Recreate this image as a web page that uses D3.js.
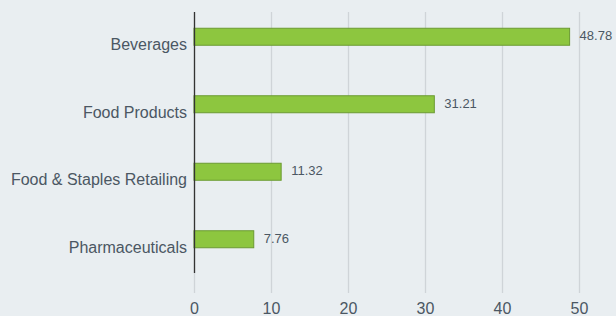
<!DOCTYPE html>
<html><head><meta charset="utf-8">
<script src="https://cdn.jsdelivr.net/npm/d3@7"></script>
<style>
html,body{margin:0;padding:0;background:#e9eef1;}
svg{display:block;font-family:"Liberation Sans",Arial,sans-serif;}
</style></head>
<body>
<svg id="chart" width="616" height="316"></svg>
<script>
const categories = ["Beverages","Food Products","Food & Staples Retailing","Pharmaceuticals"];
const values = [48.78, 31.21, 11.32, 7.76];
const tickValues = [0,10,20,30,40,50];

const svg = d3.select("#chart");
const W = 616, H = 316;
svg.append("rect").attr("width",W).attr("height",H).attr("fill","#e9eef1");

const x = d3.scaleLinear().domain([0,50]).range([194,579]);
const y = d3.scaleBand().domain(categories).range([3,273]).padding(0);
const barH = 17;
const plotTop = 12, plotBottom = 273;

// gridlines + ticks
const g = svg.append("g");
g.selectAll("line.grid").data(tickValues).join("line")
  .attr("x1",d=>x(d)+0.5).attr("x2",d=>x(d)+0.5)
  .attr("y1",plotTop).attr("y2",plotBottom+20)
  .attr("stroke","#cfd4d8").attr("stroke-width",1.3);

// x axis labels
const xAxis = d3.axisBottom(x).tickValues(tickValues).tickSize(0).tickPadding(0).tickFormat(d3.format("d"));
const ax = svg.append("g").attr("transform",`translate(0,${plotBottom+20})`).call(xAxis);
ax.select(".domain").remove();
ax.selectAll("text").attr("y",16).attr("dy","0.32em").attr("fill","#4b5763")
  .style("font-size","16px").style("font-family","'Liberation Sans',Arial,sans-serif");

// bars
svg.selectAll("rect.bar").data(categories).join("rect")
  .attr("class","bar")
  .attr("x",x(0))
  .attr("y",(d)=>y(d)+y.bandwidth()/2-barH/2)
  .attr("width",(d,i)=>x(values[i])-x(0))
  .attr("height",barH)
  .attr("fill","#8dc63f").attr("stroke","#6b9a32").attr("stroke-width",1);

// value labels
svg.selectAll("text.val").data(categories).join("text")
  .attr("x",(d,i)=>x(values[i])+10)
  .attr("y",d=>y(d)+y.bandwidth()/2-1)
  .attr("dy","0.35em")
  .attr("fill","#4b5763").style("font-size","13px")
  .text((d,i)=>values[i].toFixed(2));

// y axis line
svg.append("line").attr("x1",x(0)+0.5).attr("x2",x(0)+0.5).attr("y1",plotTop).attr("y2",plotBottom)
  .attr("stroke","#333").attr("stroke-width",1.3);

// category labels
const yAxis = d3.axisLeft(y).tickSize(0).tickPadding(0);
const ay = svg.append("g").attr("transform",`translate(187,0)`).call(yAxis);
ay.select(".domain").remove();
ay.selectAll("text").attr("x",0).attr("dy","0.32em").attr("y",8.5).attr("fill","#4b5763")
  .style("font-size","16px").style("font-family","'Liberation Sans',Arial,sans-serif");
</script>
</body></html>
